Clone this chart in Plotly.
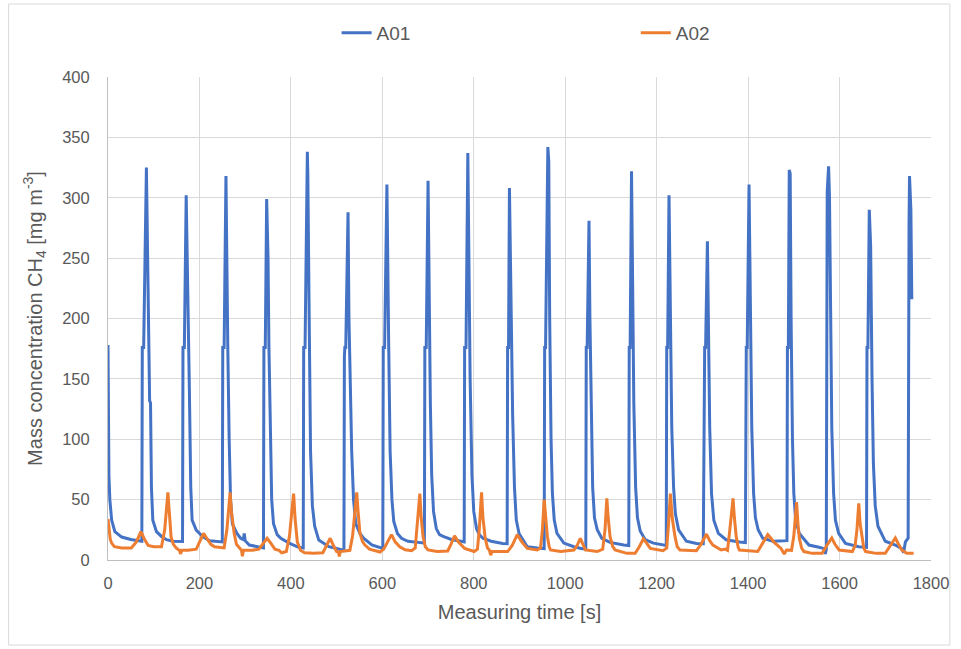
import plotly.graph_objects as go

# ---- data (time [s], concentration [mg m-3]) ----
a01_points = [
    (0, 178), (1, 105), (2, 70), (4, 50), (8, 33), (15, 23.5), (30, 19), (50, 17), (70, 15.7), (74, 15.5),
    (75, 176), (78, 176), (84, 325), (85, 300), (89, 176), (91, 132), (93, 130), (95, 60), (98, 33), (106, 23.5),
    (117, 19.5), (128, 16.8), (142, 15.5), (163, 15.3),
    (164, 176), (167, 176), (171, 302), (173, 260), (175, 215), (176, 215), (178, 140), (181, 60), (184, 33),
    (193, 24.8), (207, 19.5), (222, 16), (243, 15.5), (250, 15),
    (251, 176), (254, 176), (258, 318), (260, 224), (262, 176), (265, 100), (268, 50), (272, 30), (282, 22),
    (290, 18), (296, 17), (298, 22), (300, 16), (309, 12.4), (330, 10.5), (340, 10),
    (341, 176), (344, 176), (347, 299), (350, 250), (352, 176), (355, 90), (358, 50), (362, 30), (370, 21),
    (378, 18), (396, 14), (417, 10.5), (427, 10),
    (428, 176), (431, 176), (436, 338), (437, 320), (440, 200), (443, 90), (447, 45), (452, 28), (461, 16.5),
    (483, 11), (500, 9.5), (512, 8.3), (516, 8),
    (517, 168), (518, 176), (520, 176), (525, 288), (527, 200), (530, 140), (533, 90), (537, 50), (542, 30),
    (551, 22), (559, 18), (577, 12.4), (595, 10), (601, 9.5),
    (602, 176), (605, 176), (610, 311), (612, 218), (614, 176), (617, 90), (621, 50), (625, 32), (633, 22),
    (642, 18), (656, 15.5), (678, 14.6), (692, 14),
    (693, 176), (696, 176), (700, 314), (702, 230), (705, 130), (708, 70), (712, 40), (718, 26), (725, 21),
    (733, 19.5), (751, 17), (772, 15.5), (779, 15),
    (780, 176), (783, 176), (787, 337), (789, 250), (792, 150), (796, 70), (800, 40), (806, 26), (812, 21),
    (820, 18), (838, 15.5), (863, 13.7), (873, 13.5),
    (874, 176), (876, 176), (878, 308), (881, 230), (885, 120), (889, 60), (893, 33), (899, 22), (917, 11),
    (939, 10), (954, 9.5),
    (955, 176), (957, 176), (962, 342), (964, 330), (966, 200), (969, 100), (972, 55), (976, 33), (982, 22),
    (997, 14), (1019, 11), (1037, 9.4), (1045, 9.4),
    (1046, 176), (1048, 176), (1052, 281), (1054, 200), (1057, 110), (1060, 60), (1064, 35), (1070, 25),
    (1080, 18), (1098, 14.6), (1128, 12.4), (1139, 12),
    (1140, 176), (1142, 176), (1145, 322), (1147, 240), (1150, 130), (1154, 60), (1158, 35), (1164, 24),
    (1175, 16.8), (1193, 14), (1214, 12.4), (1221, 12),
    (1222, 176), (1224, 176), (1227, 302), (1230, 192), (1233, 110), (1237, 60), (1241, 38), (1248, 25),
    (1265, 15.5), (1287, 13.7), (1302, 13.5),
    (1305, 176), (1307, 176), (1311, 264), (1313, 200), (1316, 110), (1320, 55), (1325, 33), (1335, 22),
    (1352, 16.8), (1381, 15), (1394, 14.5),
    (1396, 176), (1398, 176), (1402, 311), (1405, 200), (1408, 110), (1412, 55), (1416, 35), (1422, 25),
    (1432, 18), (1454, 15.5), (1475, 15.5), (1485, 16),
    (1486, 176), (1488, 176), (1490, 323), (1492, 320), (1494, 200), (1497, 100), (1500, 55), (1504, 33),
    (1512, 22), (1533, 12.4), (1555, 10.5), (1566, 9.4), (1569, 5), (1571, 9),
    (1573, 305), (1576, 326), (1578, 300), (1580, 200), (1583, 110), (1587, 55), (1591, 33), (1598, 22),
    (1613, 13.7), (1642, 11), (1659, 10.5),
    (1660, 176), (1662, 176), (1665, 290), (1668, 260), (1671, 150), (1674, 80), (1678, 45), (1684, 28),
    (1700, 15.5), (1722, 12.4), (1736, 9.4), (1740, 6), (1744, 15), (1750, 18),
    (1752, 279), (1753, 318), (1756, 290), (1758, 216),
]

a02_points = [
    (0, 34), (2, 25), (5, 17), (8, 14), (14, 11), (30, 10), (51, 10), (62, 15), (72, 23.5), (80, 17), (88, 12),
    (100, 11), (117, 11), (124, 25), (128, 45), (131, 56), (134, 40), (138, 19), (143, 13), (149, 10), (156, 8),
    (159, 5), (161, 8), (175, 8), (193, 9), (200, 15), (209, 22), (216, 18), (225, 13), (233, 11), (254, 10),
    (260, 25), (264, 45), (267, 56), (270, 40), (276, 22), (281, 13), (287, 10), (292, 8), (294, 3), (296, 8),
    (315, 8), (330, 9), (340, 14), (348, 18), (356, 14), (365, 9), (374, 8), (380, 6), (390, 7), (397, 20),
    (402, 40), (406, 55), (409, 35), (414, 15), (421, 8), (430, 6), (450, 5.5), (470, 6), (478, 12), (486, 18),
    (493, 12), (500, 7), (504, 6.5), (506, 3), (508, 7), (529, 8), (535, 20), (540, 42), (544, 56), (547, 40),
    (551, 22), (557, 15), (562, 12.4), (572, 9), (584, 8), (595, 6.6), (603, 9), (612, 16), (620, 21), (628, 15),
    (638, 11), (650, 8.5), (664, 7.7), (672, 10), (677, 30), (682, 55), (685, 35), (689, 19.5), (694, 11),
    (700, 8.3), (720, 7), (743, 7.5), (750, 13), (758, 20), (766, 15), (780, 9.6), (801, 7), (808, 9), (812, 25),
    (817, 56), (820, 35), (825, 18), (830, 10), (834, 8.3), (837, 4), (840, 7), (874, 7), (884, 12), (895, 21),
    (905, 15), (917, 9.6), (939, 8.3), (946, 10), (950, 25), (954, 50), (957, 35), (961, 19.5), (965, 11),
    (968, 8.3), (990, 7), (1019, 8.3), (1026, 12), (1033, 18), (1040, 12), (1044, 8.3), (1070, 7), (1082, 9),
    (1087, 25), (1091, 51), (1094, 35), (1098, 19.5), (1104, 11), (1109, 8.3), (1135, 5.5), (1153, 5.5),
    (1162, 11), (1171, 17.5), (1178, 14), (1186, 9.6), (1214, 7.7), (1222, 10), (1226, 30), (1230, 55),
    (1234, 35), (1240, 19.5), (1245, 11), (1251, 8.3), (1287, 7.7), (1297, 13), (1309, 21.5), (1316, 16),
    (1323, 12.4), (1341, 8.3), (1350, 9), (1355, 8), (1360, 25), (1367, 51), (1370, 35), (1374, 19.5),
    (1378, 11), (1381, 8.3), (1421, 7), (1432, 14), (1443, 21), (1450, 18), (1457, 14.6), (1472, 9.6),
    (1479, 5), (1484, 8.3), (1495, 8), (1500, 20), (1506, 48), (1509, 30), (1512, 18), (1517, 10), (1522, 7),
    (1540, 5.5), (1562, 5.5), (1572, 12), (1583, 18.2), (1590, 13), (1599, 8.3), (1628, 7), (1634, 12),
    (1638, 25), (1642, 47), (1645, 30), (1649, 18), (1653, 10), (1657, 7), (1680, 5.5), (1700, 5.5),
    (1711, 12), (1722, 18.2), (1729, 13), (1736, 8.3), (1747, 5.5), (1762, 5.5),
]

a01_time = [p[0] for p in a01_points]
a01_conc = [p[1] for p in a01_points]
a02_time = [p[0] for p in a02_points]
a02_conc = [p[1] for p in a02_points]

series_names = ["A01", "A02"]
x_ticks = [0, 200, 400, 600, 800, 1000, 1200, 1400, 1600, 1800]
y_ticks = [0, 50, 100, 150, 200, 250, 300, 350, 400]

BLUE = "#4472C4"
ORANGE = "#ED7D31"
TXT = "#595959"
GRID = "#D9D9D9"
FONT = "Liberation Sans, Arial, sans-serif"

fig = go.Figure()
fig.add_trace(go.Scatter(x=a01_time, y=a01_conc, mode="lines", name=series_names[0],
                         line=dict(color=BLUE, width=3), legend="legend"))
fig.add_trace(go.Scatter(x=a02_time, y=a02_conc, mode="lines", name=series_names[1],
                         line=dict(color=ORANGE, width=3), legend="legend2"))

W, H = 961, 649
L, R, T, B = 108, 25, 77, 89
pw, ph = W - L - R, H - T - B

def px_x(px):
    return (px - L) / pw

def px_y(py):
    return (H - B - py) / ph

legend_common = dict(orientation="h", yanchor="middle", xanchor="left",
                     font=dict(family=FONT, size=19, color=TXT),
                     bgcolor="rgba(0,0,0,0)", borderwidth=0)

fig.update_layout(
    width=W, height=H,
    margin=dict(l=L, r=R, t=T, b=B),
    paper_bgcolor="white", plot_bgcolor="white",
    font=dict(family=FONT, color=TXT),
    showlegend=True,
    legend=dict(x=px_x(338), y=px_y(33), **legend_common),
    legend2=dict(x=px_x(639), y=px_y(33), **legend_common),
    xaxis=dict(
        range=[0, 1800], tickvals=x_ticks, ticktext=[str(v) for v in x_ticks],
        showgrid=True, gridcolor=GRID, gridwidth=1,
        showline=True, linecolor="#BFBFBF", linewidth=1,
        zeroline=False, ticks="", ticklabelstandoff=8,
        tickfont=dict(family=FONT, size=16.5, color=TXT),
        title=dict(text="Measuring time [s]", font=dict(family=FONT, size=20, color=TXT), standoff=14),
    ),
    yaxis=dict(
        range=[0, 400], tickvals=y_ticks, ticktext=[str(v) for v in y_ticks],
        showgrid=True, gridcolor=GRID, gridwidth=1,
        showline=True, linecolor="#BFBFBF", linewidth=1,
        zeroline=False, ticks="", ticklabelstandoff=14,
        tickfont=dict(family=FONT, size=16.5, color=TXT),
        title=dict(text="Mass concentration CH<sub>4</sub> [mg m<sup>-3</sup>]",
                   font=dict(family=FONT, size=20, color=TXT), standoff=14),
    ),
    shapes=[dict(type="rect", xref="paper", yref="paper",
                 x0=px_x(8), x1=px_x(955), y0=px_y(645), y1=px_y(4),
                 line=dict(color=GRID, width=1), fillcolor="rgba(0,0,0,0)", layer="below")],
)

fig.write_html("out.html")
